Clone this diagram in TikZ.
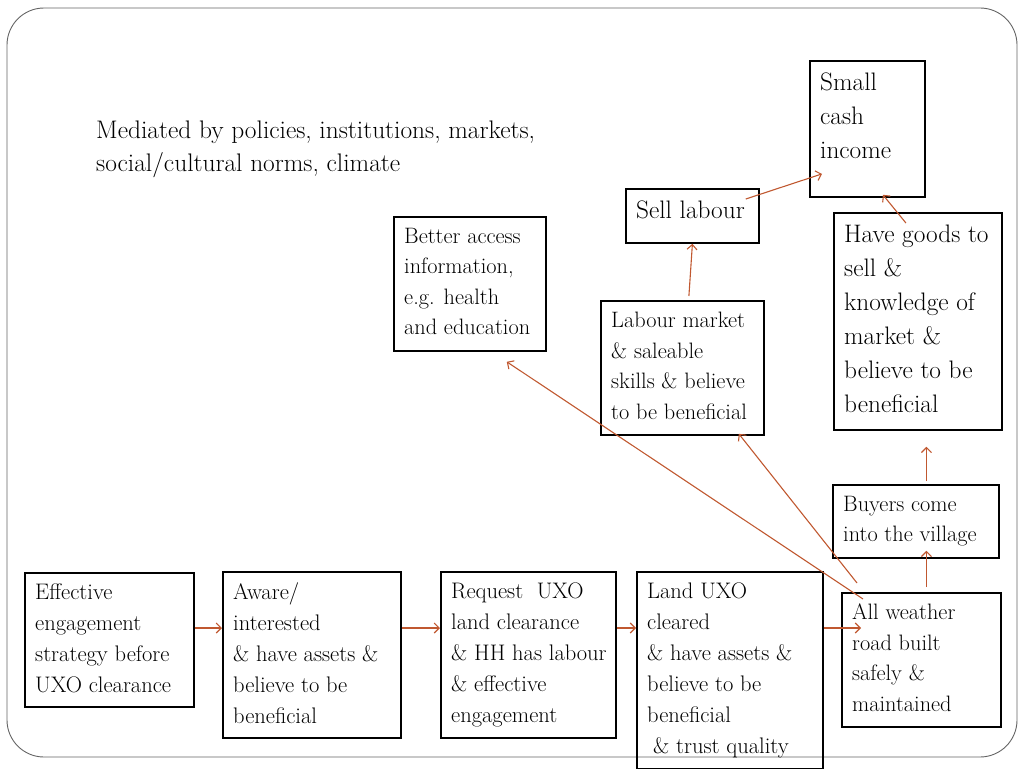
\documentclass[tikz,border=0pt]{standalone}
\usepackage{tikz}
\usetikzlibrary{arrows.meta}
\definecolor{flowc}{RGB}{192,88,48}
\definecolor{framec}{RGB}{100,100,100}

\begin{document}
\begin{tikzpicture}[x=1pt,y=-1pt,
    box/.style={draw, line width=1.8pt, anchor=north west, inner sep=0pt},
    bigtxt/.style={anchor=north west, align=left, inner sep=0pt, font=\fontsize{25.3}{34}\selectfont, xshift=11pt, yshift=-12.4pt},
    midtxt/.style={anchor=north west, align=left, inner sep=0pt, font=\fontsize{22.5}{31}\selectfont, xshift=11pt, yshift=-11.4pt},
    smalltxt/.style={anchor=north west, align=left, inner sep=0pt, font=\fontsize{22.3}{30.5}\selectfont, xshift=11pt, yshift=-12pt},
    flow/.style={draw=flowc, line width=1.1pt, -{Straight Barb[length=5pt,width=10pt]}}]
    \useasboundingbox (0,0) rectangle (1024,768);

    % slide frame
    \draw[framec, line width=0.9pt, rounded corners=37pt] (7,8) rectangle (1017,757);

    % context text
    \node[anchor=north west, align=left, inner sep=0pt, font=\fontsize{25.4}{33.4}\selectfont] (context) at (96,120.7)
        {Mediated by policies, institutions, markets,\\social/cultural norms, climate};

    % top boxes
    \node[box, minimum width=115pt, minimum height=136pt, label={[bigtxt]north west:{Small\\cash\\income}}] (cash) at (809,60) {};
    \node[box, minimum width=133pt, minimum height=54pt, label={[bigtxt]north west:{Sell labour}}] (sell) at (625,188) {};
    \node[box, minimum width=168pt, minimum height=217pt, label={[bigtxt]north west:{Have goods to\\sell \&\\knowledge of\\market \&\\believe to be\\beneficial}}] (goods) at (833,212) {};
    \node[box, minimum width=152pt, minimum height=134pt, label={[smalltxt]north west:{Better access\\information,\\e.g. health\\and education}}] (better) at (393,216) {};
    \node[box, minimum width=163pt, minimum height=134pt, label={[smalltxt]north west:{Labour market\\\& saleable\\skills \& believe\\to be beneficial}}] (labmkt) at (600,300) {};
    \node[box, minimum width=166pt, minimum height=73pt, label={[smalltxt]north west:{Buyers come\\into the village}}] (buyers) at (832,484) {};

    % bottom row
    \node[box, minimum width=169pt, minimum height=134pt, label={[midtxt]north west:{Effective\\engagement\\strategy before\\UXO clearance}}] (engage) at (24,572) {};
    \node[box, minimum width=178pt, minimum height=166pt, label={[midtxt]north west:{Aware/\\interested\\\& have assets \&\\believe to be\\beneficial}}] (aware) at (222,571) {};
    \node[box, minimum width=175pt, minimum height=166pt, label={[midtxt]north west:{Request\ \ UXO\\land clearance\\\& HH has labour\\\& effective\\engagement}}] (request) at (440,571) {};
    \node[box, minimum width=186pt, minimum height=197pt, label={[midtxt]north west:{Land UXO\\cleared\\\& have assets \&\\believe to be\\beneficial\\\hspace{6pt}\& trust quality}}] (land) at (636,571) {};
    \node[box, minimum width=159pt, minimum height=134pt, label={[smalltxt]north west:{All weather\\road built\\safely \&\\maintained}}] (road) at (841,592) {};

    % connectors
    \coordinate (row) at (0,628);
    \path ([xshift=20pt]road.west) coordinate (roadin);
    \draw[flow] (engage.east |- row) -- (aware.west |- row);
    \draw[flow] (aware.east |- row) -- (request.west |- row);
    \draw[flow] (request.east |- row) -- (land.west |- row);
    \draw[flow] (land.east |- row) -- (roadin |- row);
    \draw[flow] ([shift={(5,-5)}]road.north) -- ([shift={(10.5,-8)}]buyers.south);
    \draw[flow] ([shift={(10.5,-3)}]buyers.north) -- ([shift={(8.5,16)}]goods.south);
    \draw[flow] ([shift={(-12,11)}]goods.north) -- ([shift={(15.5,-3)}]cash.south);
    \draw[flow] ([shift={(-14,11)}]sell.north east) -- ([shift={(13,45)}]cash.west);
    \draw[flow] ([shift={(6.5,-4)}]labmkt.north) -- (sell.south);
    \draw[flow] ([shift={(16,-9)}]road.north west) -- ([shift={(-26,-2)}]labmkt.south east);
    \draw[flow] ([shift={(22,7)}]road.north west) -- ([shift={(-40,10)}]better.south east);
\end{tikzpicture}
\end{document}
